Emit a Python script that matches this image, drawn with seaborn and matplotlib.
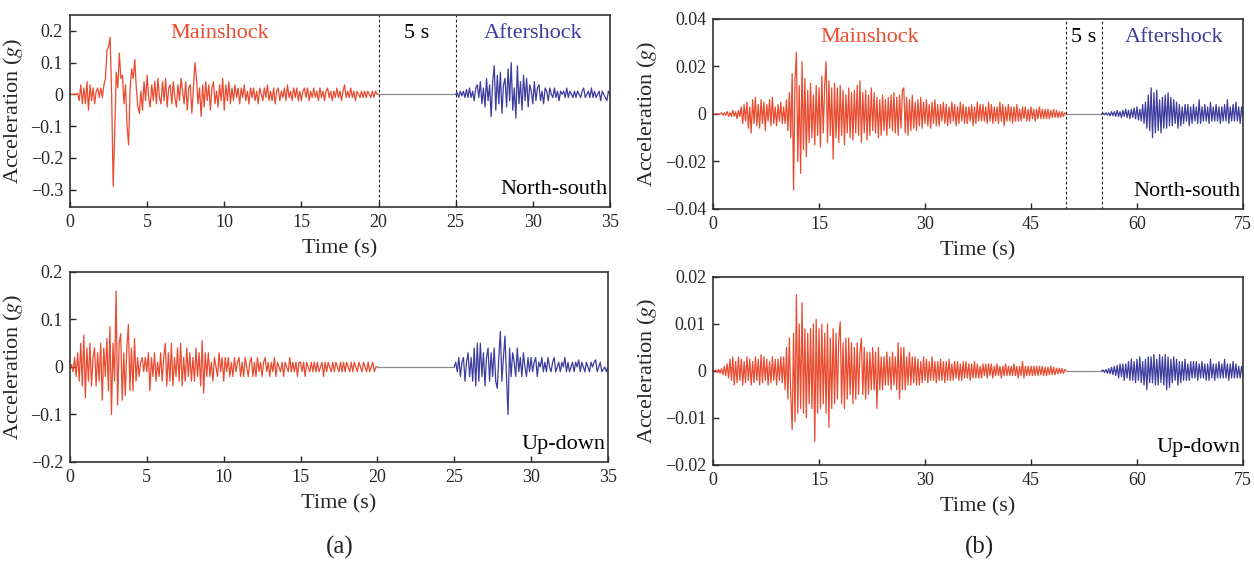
"""
Mainshock-aftershock acceleration records, two stations (a) and (b),
north-south and up-down components. Values read off the published figure.
"""

import numpy as np
import matplotlib
matplotlib.use("Agg")
import matplotlib.pyplot as plt
import seaborn as sns

# ---------------------------------------------------------------- data
# station (a): sampled every 0.1 s, acceleration in g
dt_a = 0.1
main_end_a, after_start_a, t_end_a = 20, 25, 35

ns_a_main = [
    0, 0, 0, 0, 0, 0.003, -0.02, 0.03, -0.03, 0.02,
    -0.03, 0.04, -0.05, 0.03, -0.02, 0.02, -0.03, 0.01, 0.02, -0.01,
    0.02, -0.01, 0.03, 0.05, 0.14, 0.15, 0.18, 0.0, -0.29, -0.12,
    0.07, 0.02, 0.13, 0.05, 0.06, -0.03, 0.03, -0.10, -0.16, 0.02,
    0.08, 0.05, 0.11, 0.02, -0.04, -0.06, 0.01, -0.05, 0.04, -0.02,
    0.06, -0.01, -0.04, 0.03, -0.02, 0.04, -0.03, 0.05, -0.01, -0.03,
    0.04, -0.02, 0.05, -0.04, 0.02, 0.03, -0.03, 0.04, -0.01, -0.04,
    0.03, -0.02, 0.05, 0.01, -0.03, 0.04, -0.05, 0.02, 0.03, -0.06,
    0.02, 0.10, 0.05, -0.03, 0.02, -0.07, 0.03, -0.04, 0.04, -0.02,
    0.03, -0.05, 0.02, 0.04, -0.03, 0.01, -0.04, 0.03, -0.02, 0.05,
    -0.05, 0.03, -0.02, 0.04, -0.03, 0.02, -0.02, 0.03, -0.01, 0.02,
    -0.03, 0.02, -0.01, 0.03, -0.02, 0.01, -0.03, 0.02, -0.01, 0.02,
    -0.02, 0.01, -0.03, 0.02, 0.0, -0.02, 0.02, -0.01, 0.03, -0.02,
    0.01, -0.02, 0.02, -0.03, 0.01, 0.02, -0.02, 0.01, -0.01, 0.02,
    -0.02, 0.03, -0.01, 0.01, -0.02, 0.02, -0.01, 0.02, -0.02, 0.01,
    -0.02, 0.01, 0.02, -0.01, 0.02, -0.02, 0.01, -0.01, 0.02, -0.01,
    0.01, -0.02, 0.02, -0.01, 0.01, -0.02, 0.01, 0.02, -0.01, 0.01,
    -0.02, 0.01, -0.01, 0.02, -0.01, 0.01, -0.02, 0.01, 0.03, -0.01,
    0.01, -0.01, 0.02, -0.01, 0.01, -0.02, 0.01, 0.0, -0.01, 0.01,
    -0.01, 0.01, -0.01, 0.01, 0.0, -0.01, 0.01, -0.01, 0.01, 0.0,
    0.0,
]
ns_a_after = [
    0.0, 0.005, -0.01, 0.01, -0.005, 0.01, -0.01, 0.015, -0.01, 0.02,
    -0.01, 0.01, -0.02, 0.02, 0.03, -0.01, 0.04, -0.03, 0.02, -0.04,
    0.05, -0.02, 0.03, -0.07, 0.04, 0.09, -0.05, 0.06, -0.03, 0.07,
    -0.06, 0.03, 0.05, -0.04, 0.08, -0.02, 0.10, -0.05, 0.02, -0.075,
    0.09, -0.03, 0.04, -0.05, 0.06, -0.02, 0.05, -0.04, 0.03, 0.01,
    -0.03, 0.04, -0.02, 0.02, 0.03, -0.02, 0.01, -0.03, 0.02, 0.01,
    -0.02, 0.02, 0.0, -0.01, 0.02, -0.01, 0.01, -0.02, 0.01, 0.0,
    0.01, -0.01, 0.02, -0.01, 0.01, 0.0, -0.01, 0.01, -0.01, 0.01,
    0.0, -0.01, 0.01, 0.02, -0.01, 0.0, 0.01, -0.01, 0.02, -0.01,
    0.01, -0.01, 0.0, 0.01, -0.02, 0.01, 0.0, -0.01, -0.02, 0.01,
    0.0,
]
ud_a_main = [
    0.0, 0.005, -0.01, 0.02, -0.02, 0.03, -0.03, 0.05, -0.04, 0.067,
    -0.065, 0.04, -0.03, 0.05, -0.04, 0.02, 0.04, -0.04, 0.03, -0.03,
    0.05, -0.07, 0.04, -0.02, 0.06, -0.05, 0.085, -0.10, 0.05, -0.03,
    0.16, -0.08, 0.05, 0.07, -0.07, 0.03, -0.06, 0.04, 0.09, -0.05,
    0.04, -0.05, 0.06, -0.03, 0.02, -0.02, 0.01, 0.02, -0.01, 0.02,
    -0.01, 0.03, -0.05, 0.02, -0.02, 0.03, -0.03, 0.01, -0.02, 0.03,
    -0.03, 0.02, 0.05, -0.04, 0.03, -0.03, 0.05, -0.04, 0.02, -0.02,
    0.04, -0.03, 0.05, -0.04, 0.02, -0.03, 0.04, -0.02, 0.03, -0.03,
    0.02, -0.03, 0.04, -0.02, 0.03, -0.04, 0.055, -0.055, 0.03, -0.02,
    0.03, -0.02, 0.01, -0.03, 0.02, 0.0, -0.02, 0.03, -0.01, 0.02,
    -0.03, 0.02, -0.01, 0.02, -0.02, 0.01, -0.02, 0.02, -0.01, 0.01,
    0.02, -0.02, 0.01, -0.02, 0.02, 0.0, -0.02, 0.01, 0.02, -0.02,
    0.01, -0.02, 0.02, -0.01, 0.01, -0.02, 0.01, 0.02, -0.01, 0.01,
    -0.02, 0.01, -0.01, 0.02, -0.02, 0.01, 0.0, -0.01, 0.01, -0.02,
    0.01, 0.0, -0.01, 0.02, -0.01, 0.01, -0.01, 0.01, -0.02, 0.01,
    0.01, -0.01, 0.01, -0.02, 0.01, 0.0, -0.01, 0.01, -0.01, 0.01,
    -0.01, 0.01, -0.01, 0.0, 0.01, -0.02, 0.01, -0.01, 0.01, 0.0,
    -0.01, 0.01, -0.01, 0.01, 0.0, -0.01, 0.01, -0.01, 0.01, -0.01,
    0.01, 0.0, -0.01, 0.01, -0.01, 0.01, 0.0, -0.01, 0.01, 0.0,
    -0.01, 0.01, 0.0, -0.01, 0.01, -0.01, 0.0, 0.01, -0.01, 0.0,
    0.0,
]
ud_a_after = [
    0.0, 0.01, -0.01, 0.02, -0.02, 0.01, 0.02, -0.03, 0.01, 0.03,
    -0.02, 0.02, -0.03, 0.04, -0.04, 0.05, -0.03, 0.05, -0.02, 0.03,
    -0.04, 0.02, 0.04, -0.03, 0.03, -0.02, 0.04, -0.03, -0.045, 0.02,
    0.075, -0.03, 0.02, 0.065, -0.02, -0.10, 0.04, -0.02, 0.03, 0.01,
    -0.02, 0.04, -0.01, 0.02, -0.02, 0.03, 0.0, -0.02, 0.02, -0.01,
    0.02, -0.01, 0.01, 0.02, -0.02, 0.01, 0.0, 0.02, -0.01, 0.01,
    -0.01, 0.02, 0.0, -0.01, 0.01, 0.02, -0.01, 0.0, 0.01, -0.01,
    0.01, 0.0, 0.02, -0.01, 0.01, -0.01, 0.0, 0.01, -0.01, 0.01,
    0.0, 0.015, -0.01, 0.01, 0.0, -0.01, 0.01, 0.0, -0.01, 0.01,
    0.0, 0.01, 0.015, -0.01, 0.0, 0.01, -0.01, -0.005, 0.0, -0.01,
    0.0,
]

# station (b): sampled every 0.2 s, acceleration in 1e-3 g
dt_b = 0.2
main_end_b, after_start_b, t_end_b = 50, 55, 75

ns_b_main_mg = [
    0, 0, 0, 0, 0,
    0, 0.5, -0.5, 0.5, -0.5,
    1, -1, 0.5, -1, 1.5,
    -1, 1, -2, 1.5, -1,
    3, -4, 4, -3, 5,
    -6, 3, -8, 6, -4,
    7, -5, 4, -6, 6,
    -4, 5, -7, 4, -3,
    6, -5, 7, -4, 3,
    -5, 4, -3, 5, -4,
    3, -4, 6, -7, 9,
    -10, 17, -32, 14, 26,
    -20, 12, -25, 22, -15,
    15, -18, 10, -12, 13,
    -10, 8, -13, 12, -9,
    11, -14, 16, -8, 12,
    22, -12, 14, -9, 11,
    -19, 13, -10, 11, -12,
    12, -9, 10, -13, 8,
    -8, 11, -10, 9, -11,
    10, -8, 12, -9, 14,
    -12, 9, -8, 10, -11,
    8, -9, 11, -7, 9,
    -8, 7, -10, 6, -9,
    8, -7, 6, -9, 7,
    -6, 8, -7, 9, -8,
    7, -9, 8, -6, 10,
    11, -8, 7, -9, 6,
    -7, 8, -6, 5, -7,
    6, -5, 7, -6, 5,
    -4, 6, -5, 4, -6,
    5, -4, 6, -5, 4,
    -5, 4, -3, 5, -4,
    4, -5, 3, -4, 5,
    -3, 4, -5, 3, -4,
    5, -3, 4, -4, 3,
    -4, 3, -3, 4, -5,
    3, -4, 5, -3, 4,
    -3, 4, -3, 3, -4,
    5, -3, 4, -4, 3,
    -3, 3, -4, 5, -3,
    4, -5, 3, -3, 4,
    -3, 3, -4, 3, -3,
    4, -3, 2, -3, 3,
    -2, 3, -3, 2, -3,
    3, -2, 2, -3, 2,
    -2, 3, -2, 2, -2,
    2, -2, 2, -2, 1.5,
    -1.5, 2, -1.5, 1.5, -1.5,
    1, -1.5, 1, -1, 0.5,
    0,
]
ns_b_after_mg = [
    0, 0.3, -0.3, 0.5, -0.5,
    0.5, -0.8, 1, -0.7, 1,
    -1, 1.5, -1, 1, -1.5,
    1.5, -1, 2, -1.5, 1.5,
    -2, 2, -1.5, 2.5, -2,
    3, -2.5, 2, -3, 4,
    -4, 5, -6, 8, -7,
    11, -10, 9, -8, 10,
    -7, 6, -8, 7, -6,
    8, -6, 9, -5, 7,
    -5, 6, -4, 5, -6,
    4, -5, 3, -4, 4,
    -3, 4, -5, 3, -4,
    4, -3, 3, -4, 6,
    -4, 3, -3, 4, -3,
    3, -4, 5, -3, 3,
    -3, 4, -3, 3, -4,
    3, -3, 4, -3, 6,
    -4, 3, -3, 4, -3,
    5, -3, 3, -4, 3,
    -2,
]
ud_b_main_mg = [
    0, 0, 0.2, -0.3, 0.3,
    -0.5, 0.5, -0.8, 1, -1,
    1.5, -1.5, 2.5, -2, 3,
    -3, 2, -2.5, 3, -2,
    2.5, -3, 2, -2.5, 3,
    -2, 2.5, -3, 2, -2.5,
    3, -2, 2.5, -3, 3.5,
    -2.5, 3, -2, 2.5, -3,
    2, -2.5, 3, -2, 2.5,
    -3, 2.5, -2, 3, -2.5,
    3, -4, 5, -6, 7,
    -5, -12.5, 8, -10.8, 16.2,
    -9, 10, -8, 14.5, -9,
    9, -10, 8, -7, 9,
    -8, 10, -15, 11, -9,
    9, -8, 10, -7, 8,
    -9, 10, -12, 7, -8,
    9, -7, 8, -6, 7,
    10.5, -7, 6, -8, 7,
    -6, 7, -5, 6, -7,
    5, -6, 6, -5, 4,
    7, -5, 5, -6, 4,
    -5, 4, -4, 5, -4,
    4, -8, 5, -4, 3,
    -4, 3, -3, 4, -3,
    3, -4, 4, -3, 3,
    -4, 6, -6, 5, -4,
    5, -4, 3, -3, 4,
    -3, 3, -2.5, 3, -3,
    2.5, -3, 2, -2.5, 3,
    -2, 2.5, -2.5, 2, -2,
    3, -2, 2, -2.5, 2,
    -2, 2.5, -2, 2, -2.5,
    2, -2, 2.5, -2, 1.5,
    -2, 2, -1.5, 2, -2,
    1.5, -2, 2, -1.5, 2,
    -1.5, 1.5, -2, 1.5, -1.5,
    2, -1.5, 1.5, -1.5, 1,
    -1.5, 1.5, -1, 1.5, -1.5,
    1.5, -1, 1.5, -1.5, 1,
    -1, 1.5, -1, 1, -1.5,
    1, -1, 1.5, -1, 1,
    -1, 1, -1, 1.5, -1,
    1, -1.5, 1, -1, 2,
    -1.5, 1, -1, 1, -1,
    1, -1, 1, -1, 1,
    -1, 1, -0.8, 1, -1,
    0.8, -1, 0.8, -0.8, 1,
    -0.8, 0.8, -0.8, 0.6, -0.6,
    0.6, -0.5, 0.5, -0.5, 0.3,
    0,
]
ud_b_after_mg = [
    0, 0.2, -0.3, 0.3, -0.5,
    0.5, -0.6, 0.8, -0.8, 1,
    -1, 1.2, -1.5, 1.5, -1.2,
    1.5, -2, 1.5, -1.5, 2,
    -2, 2.5, -2, 2, -2.5,
    2.5, -2, 3, -2.5, 2,
    -3, 2.5, -4, 3, -2.5,
    3, -2.5, 3.5, -3, 2.5,
    -3, 3.5, -2.5, 3, -3,
    3.5, -4, 3, -3.5, 2.5,
    -2.5, 3, -2, 2.5, -3,
    2, -2.5, 2, -2, 2.5,
    -2, 1.5, -2, 2, -1.5,
    2, -1.5, 2, -2, 1.5,
    -1.5, 2, -1.5, 1.5, -2,
    1.5, -2, 2.5, -1.5, 1.5,
    -2, 1.5, -1.5, 2, -1.5,
    1.5, -1.5, 2.5, -1.5, 1.5,
    -2, 1.5, -1.5, 2, -1.5,
    1.5, -1.5, 1, -1.5, 1,
    -1,
]

yticks_a_ns = [0.2, 0.1, 0, -0.1, -0.2, -0.3]
yticks_a_ud = [0.2, 0.1, 0, -0.1, -0.2]
yticks_b_ns = [0.04, 0.02, 0, -0.02, -0.04]
yticks_b_ud = [0.02, 0.01, 0, -0.01, -0.02]
xticks_a = [0, 5, 10, 15, 20, 25, 30, 35]
xticks_b = [0, 15, 30, 45, 60, 75]

MAIN_COLOR = "#EA4A2E"
AFTER_COLOR = "#3C3C9E"
GAP_COLOR = "#8C8C8C"

# ---------------------------------------------------------------- style
sns.set_theme(style="ticks")
plt.rcParams["font.family"] = ["Liberation Serif", "DejaVu Serif"]
plt.rcParams["mathtext.fontset"] = "stix"
plt.rcParams["xtick.direction"] = "in"
plt.rcParams["ytick.direction"] = "in"
plt.rcParams["axes.edgecolor"] = "#333333"
plt.rcParams["axes.linewidth"] = 1.2


def fmt_tick(v):
    if v == 0:
        return "0"
    return f"{v:g}".replace("-", "\u2212")


def plot_record(ax, main, after, dt, main_end, after_start, t_end, ylim,
                yticks, xticks, component, show_gap_lines, label_x):
    t_main = np.arange(len(main)) * dt
    t_after = after_start + np.arange(len(after)) * dt
    sns.lineplot(x=t_main, y=main, ax=ax, color=MAIN_COLOR, lw=0.9,
                 estimator=None, sort=False)
    sns.lineplot(x=[main_end, after_start], y=[0, 0], ax=ax, color=GAP_COLOR,
                 lw=0.9, estimator=None, sort=False)
    sns.lineplot(x=t_after, y=after, ax=ax, color=AFTER_COLOR, lw=0.9,
                 estimator=None, sort=False)

    ax.set_xlim(0, t_end)
    ax.set_ylim(*ylim)
    ax.set_xticks(xticks)
    ax.set_xticklabels([str(x) for x in xticks], fontsize=13)
    ax.set_yticks(yticks)
    ax.set_yticklabels([fmt_tick(v) for v in yticks], fontsize=13)
    ax.tick_params(length=4, width=1, pad=5)
    ax.set_xlabel("Time (s)", fontsize=16, labelpad=6)
    ax.set_ylabel(r"Acceleration ($g$)", fontsize=16, labelpad=4)
    for s in ax.spines.values():
        s.set_visible(True)

    ax.text(0.995, 0.04, component, transform=ax.transAxes, ha="right",
            va="bottom", fontsize=16, color="black")

    if show_gap_lines:
        for xv in (main_end, after_start):
            ax.axvline(xv, color="#222222", lw=0.8, ls=(0, (2.5, 2)))
        ytxt = 0.905
        ax.text(label_x[0], ytxt, "Mainshock", transform=ax.get_xaxis_transform(),
                ha="center", va="center", fontsize=16, color=MAIN_COLOR)
        ax.text((main_end + after_start) / 2, ytxt, "5 s",
                transform=ax.get_xaxis_transform(), ha="center", va="center",
                fontsize=16, color="black")
        ax.text(label_x[1], ytxt, "Aftershock", transform=ax.get_xaxis_transform(),
                ha="center", va="center", fontsize=16, color=AFTER_COLOR)


fig = plt.figure(figsize=(12.54, 5.63), dpi=100)
ax_a_ns = fig.add_axes([0.0558, 0.6323, 0.4306, 0.3411])
ax_a_ud = fig.add_axes([0.0558, 0.1794, 0.4290, 0.3375])
ax_b_ns = fig.add_axes([0.5686, 0.6288, 0.4226, 0.3375])
ax_b_ud = fig.add_axes([0.5686, 0.1741, 0.4226, 0.3340])

plot_record(ax_a_ns, ns_a_main, ns_a_after, dt_a, main_end_a, after_start_a,
            t_end_a, (-0.355, 0.25), yticks_a_ns, xticks_a, "North-south",
            True, (9.7, 30.0))
plot_record(ax_a_ud, ud_a_main, ud_a_after, dt_a, main_end_a, after_start_a,
            t_end_a, (-0.2, 0.2), yticks_a_ud, xticks_a, "Up-down",
            False, None)
plot_record(ax_b_ns, np.array(ns_b_main_mg) / 1000, np.array(ns_b_after_mg) / 1000,
            dt_b, main_end_b, after_start_b, t_end_b, (-0.04, 0.04),
            yticks_b_ns, xticks_b, "North-south", True, (22.2, 65.3))
plot_record(ax_b_ud, np.array(ud_b_main_mg) / 1000, np.array(ud_b_after_mg) / 1000,
            dt_b, main_end_b, after_start_b, t_end_b, (-0.02, 0.02),
            yticks_b_ud, xticks_b, "Up-down", False, None)

fig.text(0.271, 0.027, "(a)", ha="center", va="center", fontsize=18)
fig.text(0.781, 0.027, "(b)", ha="center", va="center", fontsize=18)

fig.savefig("out.png", dpi=100)
plt.close(fig)
